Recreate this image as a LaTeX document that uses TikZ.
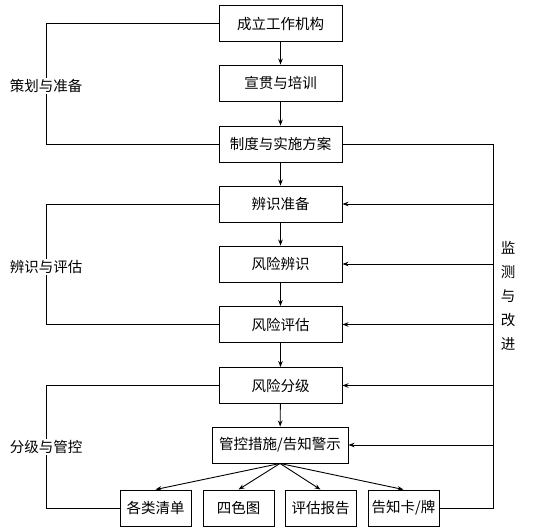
\documentclass[tikz,border=0pt]{standalone}
\usepackage{fontspec}
\setmainfont{Noto Sans CJK SC}
\usetikzlibrary{arrows.meta}
\begin{document}
\begin{tikzpicture}[x=1pt,y=-1pt,
  box/.style={draw,line width=0.9pt,inner sep=0pt,minimum width=123pt,minimum height=36pt,font=\fontsize{14.5}{16}\selectfont},
  sbox/.style={box,minimum width=71pt},
  lab/.style={fill=white,inner sep=1pt,font=\fontsize{14.5}{16}\selectfont},
  ln/.style={line width=0.9pt},
  arr/.style={ln,-{Stealth[length=6pt,width=4.5pt]}}]
\useasboundingbox (0,0) rectangle (538,532);
\node[box] (b1) at (280.5,23.5) {成立工作机构};
\node[box] (b2) at (280.5,83) {宣贯与培训};
\node[box] (b3) at (280.5,144) {制度与实施方案};
\node[box] (b4) at (280.5,204) {辨识准备};
\node[box] (b5) at (280.5,264) {风险辨识};
\node[box] (b6) at (280.5,324.5) {风险评估};
\node[box] (b7) at (280.5,385.5) {风险分级};
\node[box,minimum width=136pt] (b8) at (280,445) {管控措施/告知警示};
\node[sbox] (ca) at (155.5,508) {各类清单};
\node[sbox] (cb) at (238.5,508) {四色图};
\node[sbox] (cc) at (320.5,508) {评估报告};
\node[sbox] (cd) at (403.5,508) {告知卡/牌};
\draw[arr] (b1) -- (b2);
\draw[arr] (b2) -- (b3);
\draw[arr] (b3) -- (b4);
\draw[arr] (b4) -- (b5);
\draw[arr] (b5) -- (b6);
\draw[arr] (b6) -- (b7);
\draw[arr] (b7) -- (b8);
\foreach \t in {ca,cb,cc,cd} \draw[arr] (b8.south) -- (\t.north);
% left brackets
\coordinate (l1) at (46,23.5);
\coordinate (l2) at (46,144);
\draw[ln] (b1.west) -- (l1) -- (l2) -- (b3.west);
\node[lab] (t1) at (46,86) {策划与准备};
\coordinate (l3) at (46,204);
\coordinate (l4) at (46,324.5);
\draw[ln] (b4.west) -- (l3) -- (l4) -- (b6.west);
\node[lab] (t2) at (46,267) {辨识与评估};
\coordinate (l5) at (46,385.5);
\coordinate (l6) at (46,508);
\draw[ln] (b7.west) -- (l5) -- (l6) -- (ca.west);
\node[lab] (t3) at (46,447) {分级与管控};
% right monitoring loop
\coordinate (r1) at (493,144);
\coordinate (r2) at (493,508);
\draw[ln] (b3.east) -- (r1) -- (r2) -- (cd.east);
\foreach \b in {b4,b5,b6,b7,b8} \draw[arr] (r1 |- \b.east) -- (\b.east);
\node[font=\fontsize{14.5}{24}\selectfont,align=center,inner sep=0pt] (t4) at (508,296) {监\\测\\与\\改\\进};
\end{tikzpicture}
\end{document}
